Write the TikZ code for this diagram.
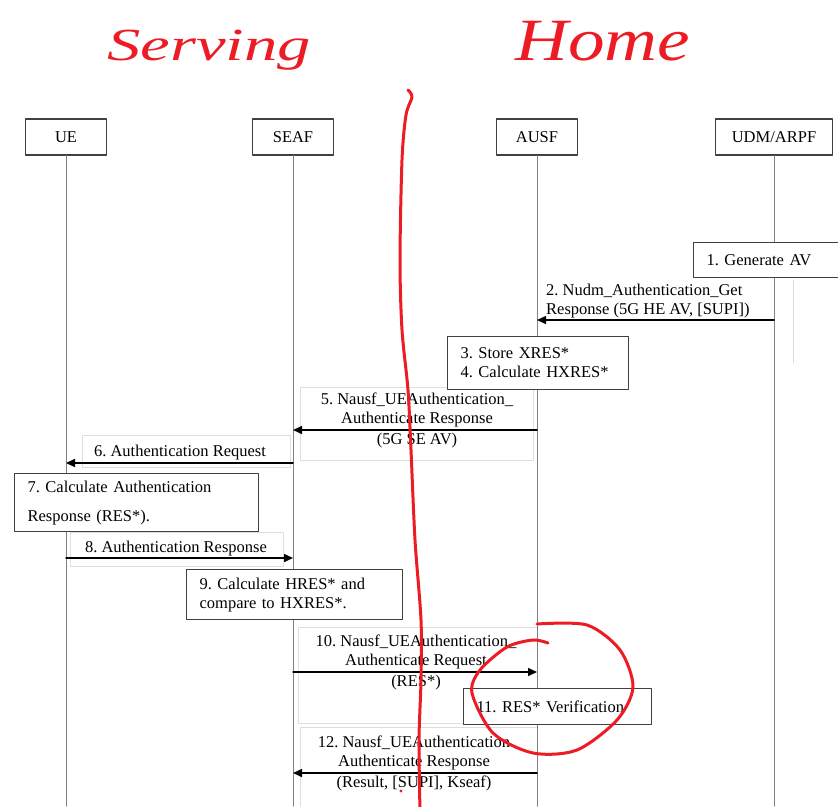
\documentclass[tikz,border=0pt]{standalone}
\usepackage{fontspec}
\setmainfont{Liberation Serif}
\usetikzlibrary{arrows.meta}
\definecolor{penred}{RGB}{237,28,36}
\definecolor{boxline}{RGB}{64,64,64}
\definecolor{faintline}{RGB}{222,222,222}
\frenchspacing

\begin{document}
\begin{tikzpicture}[x=1pt,y=-1pt,line cap=round,line join=round,>={Triangle[length=9pt,width=8pt]},
  every node/.style={inner sep=1pt,font=\fontsize{16.5}{19}\selectfont},
  head/.style={draw=boxline,line width=1.2pt,fill=white,minimum height=36pt},
  stepbox/.style={draw=boxline,line width=1.2pt,fill=white,anchor=north west,align=left,inner xsep=13pt,inner ysep=0pt},
  life/.style={draw=gray,line width=1pt},
  msg/.style={->,line width=1.5pt},
  faint/.style={draw=faintline,line width=0.8pt},
  pen/.style={draw=penred,line width=3pt}]
  \useasboundingbox (0,0) rectangle (838,806);
  % faint frames round the messages
  \draw[faint] (300,387) rectangle (533,460);
  \draw[faint] (82,435) rectangle (290,467);
  \draw[faint] (70,532) rectangle (283,566);
  \draw[faint] (298,627) rectangle (537,723);
  \draw[faint] (300,727) rectangle (537,812);
  \draw[faint] (793,280) -- (793,363);
  % heads and lifelines
  \node[head,minimum width=81pt] (UE) at (66,137) {UE};
  \node[head,minimum width=81pt] (SEAF) at (293,137) {SEAF};
  \node[head,minimum width=81pt] (AUSF) at (537,137) {AUSF};
  \node[head,minimum width=117pt] (UDM) at (774,137) {UDM/ARPF};
  \coordinate (UEend) at (66,806);
  \coordinate (SEAFend) at (293,806);
  \coordinate (AUSFend) at (537,806);
  \coordinate (UDMend) at (774,806);
  \draw[life] (UE) -- (UEend);
  \draw[life] (SEAF) -- (SEAFend);
  \draw[life] (AUSF) -- (AUSFend);
  \draw[life] (UDM) -- (UDMend);
  % steps
  \node[stepbox,text width=119pt,minimum height=35pt] (s1) at (693,242) {1. Generate AV};
  \node[stepbox,text width=155pt,minimum height=53pt] (s34) at (447,336) {3. Store XRES*\\4. Calculate HXRES*};
  \node[stepbox,text width=218pt,minimum height=58pt,font=\fontsize{16.5}{29}\selectfont] (s7) at (14,473) {7. Calculate Authentication\\Response (RES*).};
  \node[stepbox,text width=190pt,minimum height=50pt] (s9) at (186,569) {9. Calculate HRES* and\\compare to HXRES*.};
  \node[stepbox,text width=162pt,minimum height=36pt] (s11) at (463,688) {11. RES* Verification};
  % messages
  \coordinate (m2a) at (774,320);
  \coordinate (m2b) at (537,320);
  \coordinate (m5a) at (537,430);
  \coordinate (m5b) at (293,430);
  \coordinate (m6a) at (293,463);
  \coordinate (m6b) at (66,463);
  \coordinate (m8a) at (66,558);
  \coordinate (m8b) at (293,558);
  \coordinate (m10a) at (293,672);
  \coordinate (m10b) at (537,672);
  \coordinate (m12a) at (537,773);
  \coordinate (m12b) at (293,773);
  \draw[msg] (m2a) -- (m2b);
  \draw[msg] (m5a) -- (m5b);
  \draw[msg] (m6a) -- (m6b);
  \draw[msg] (m8a) -- (m8b);
  \draw[msg] (m10a) -- (m10b);
  \draw[msg] (m12a) -- (m12b);
  \node[anchor=south west,align=left] (l2) at (545,319) {2. Nudm\_Authentication\_Get\\Response (5G HE AV, [SUPI])};
  \node[anchor=south,align=center] (l5) at (417,428) {5. Nausf\_UEAuthentication\_\\Authenticate Response};
  \node[anchor=north] (l5b) at (417,432) {(5G SE AV)};
  \node[anchor=south] (l6) at (180,461) {6. Authentication Request};
  \node[anchor=south] (l8) at (176,557) {8. Authentication Response};
  \node[anchor=south,align=center] (l10) at (416,670) {10. Nausf\_UEAuthentication\_\\Authenticate Request};
  \node[anchor=north] (l10b) at (416,674) {(RES*)};
  \node[anchor=south,align=center] (l12) at (414,771) {12. Nausf\_UEAuthentication\\Authenticate Response};
  \node[anchor=north] (l12b) at (414,775) {(Result, [SUPI], Kseaf)};
  % red pen notes
  \node[anchor=base west,text=penred,inner sep=0pt] (serving) at (107,60) {\scalebox{1.45}[1]{\fontsize{46}{46}\selectfont\itshape Serving}};
  \node[anchor=base west,text=penred,inner sep=0pt] (home) at (515,60) {\scalebox{1.22}[1]{\fontsize{60}{60}\selectfont\itshape Home}};
  \draw[pen] plot[smooth] coordinates {(408,90) (412,97) (406,115) (402,160) (400,260) (402,330) (408,390) (411,450) (415,540) (421,620) (421,680) (419,740) (420,812)};
  \draw[pen] plot[smooth] coordinates {(537,624) (587,625) (620,650) (633,687) (617,720) (577,750) (533,753) (493,733) (472,693) (480,670) (507,647) (533,640) (548,643)};
  \fill[penred] (401,791) circle (1.6);
\end{tikzpicture}
\end{document}
